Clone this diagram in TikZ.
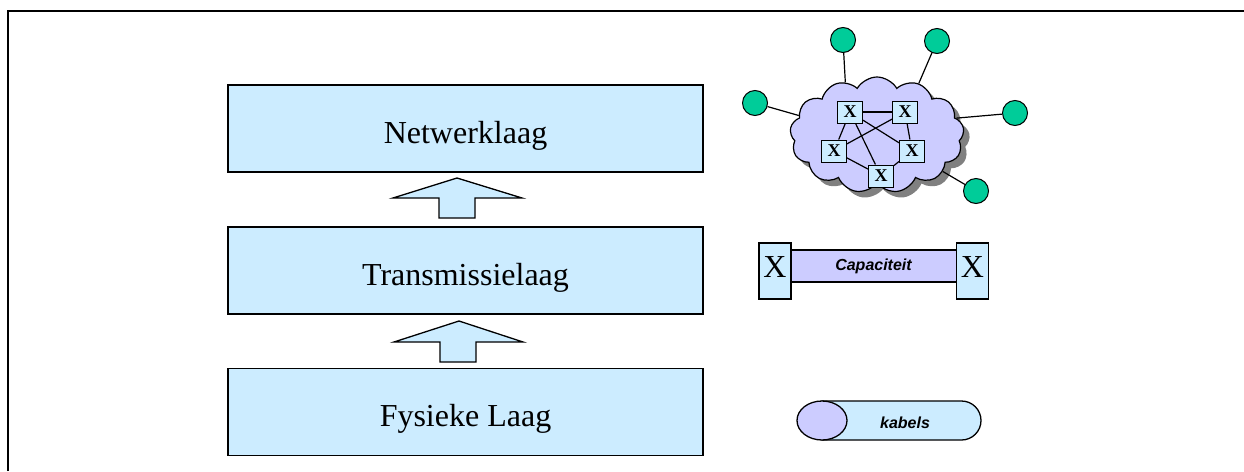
\documentclass[tikz,border=0pt]{standalone}
\usepackage{fontspec}
\setmainfont{Liberation Serif}
\newfontfamily\arialf{Liberation Sans}
\usetikzlibrary{shapes.symbols,shadows}
\definecolor{layerblue}{HTML}{CCECFF}
\definecolor{lav}{HTML}{CCCCFF}
\definecolor{nodegreen}{HTML}{00CC99}
\begin{document}
\begin{tikzpicture}[x=1pt,y=-1pt,
 layer/.style={draw, line width=1.5pt, fill=layerblue, minimum width=475pt, minimum height=87pt, inner sep=0pt, text height=36pt, text depth=7pt, font=\fontsize{32}{38}\selectfont},
 uparrow/.style={draw, line width=1.3pt, fill=layerblue, line join=miter},
 sw/.style={draw, line width=1pt, fill=layerblue, minimum width=25pt, minimum height=22pt, inner sep=0pt, font=\bfseries\fontsize{18}{20}\selectfont},
 host/.style={circle, draw, line width=1pt, fill=nodegreen, minimum size=25pt, inner sep=0pt},
 link/.style={line width=1.2pt},
 bigx/.style={draw, line width=1.3pt, fill=layerblue, minimum width=32pt, minimum height=56pt, inner sep=0pt, text height=21pt, text depth=8pt, font=\fontsize{32}{38}\selectfont},
 smalltxt/.style={font=\arialf\bfseries\itshape\fontsize{16}{18}\selectfont}
]
\useasboundingbox (0,0) rectangle (1244,471);
\fill[white] (0,0) rectangle (1244,471);
% frame
\coordinate (fTL) at (8,11);
\coordinate (fTR) at (1244,11);
\coordinate (fBL) at (8,471);
\draw[line width=1.6pt] (fBL) -- (fTL) -- (fTR);

% layers
\node[layer] (net) at (465.5,128.5) {Netwerklaag};
\node[layer] (trans) at (465.5,270.5) {Transmissielaag};
\node[layer] (fys) at (465.5,412) {Fysieke Laag};

% block arrows
\draw[uparrow] (439,218) -- (439,198) -- (393,198) -- (457,178) -- (522,198) -- (475,198) -- (475,218) -- cycle;
\draw[uparrow] (440,362) -- (440,342) -- (394,342) -- (459,321) -- (523,342) -- (476,342) -- (476,362) -- cycle;

% cloud network
\node[cloud, cloud puffs=13, cloud puff arc=120, aspect=1.5, draw, line width=1.2pt, fill=lav,
      minimum width=174pt, minimum height=116pt, inner sep=0pt,
      drop shadow={shadow xshift=6pt, shadow yshift=-6pt, fill=gray, opacity=1}] (cloud) at (877,135) {};

\node[sw] (s1) at (850,112) {X};
\node[sw] (s2) at (905,112) {X};
\node[sw] (s3) at (834,151) {X};
\node[sw] (s4) at (912,151) {X};
\node[sw] (s5) at (881,176) {X};
\draw[link] (s1) -- (s2);
\draw[link] (s1) -- (s3);
\draw[link] (s1) -- (s5);
\draw[link] (s1) -- (s4);
\draw[link] (s2) -- (s3);
\draw[link] (s2) -- (s4);
\draw[link] (s3) -- (s5);
\draw[link] (s4) -- (s5);

\node[host] (h1) at (843,40) {};
\node[host] (h2) at (937,41) {};
\node[host] (h3) at (755,103) {};
\node[host] (h4) at (1015,113) {};
\node[host] (h5) at (976,191) {};
\draw[link] (h1) -- (cloud.121);
\draw[link] (h2) -- (cloud.51);
\draw[link] (h3) -- (cloud.166);
\draw[link] (h4) -- (cloud.12);
\draw[link] (h5) -- (cloud.-29);

% capacity link
\node[draw, line width=1.3pt, fill=lav, minimum width=170pt, minimum height=32pt, inner sep=0pt, smalltxt] (cap) at (873.5,266) {Capaciteit};
\node[bigx] (xl) at (775,271) {X};
\node[bigx] (xr) at (972.5,271) {X};

% cable
\draw[line width=1.3pt, fill=layerblue] (822,401) -- (961.5,401) arc[start angle=-90, end angle=90, radius=19.5] -- (822,440) -- cycle;
\draw[line width=1.3pt, fill=lav] (822,420.5) ellipse [x radius=25, y radius=19.5];
\node[smalltxt] (kab) at (905,423) {kabels};
\end{tikzpicture}
\end{document}
